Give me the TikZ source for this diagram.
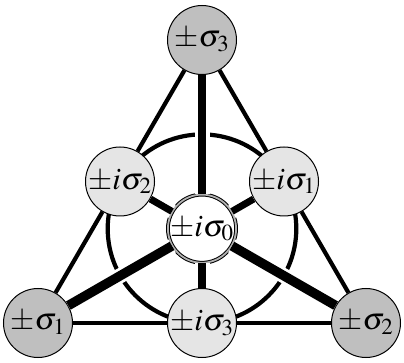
\documentclass[tikz,border=0pt]{standalone}
\usepackage{amsmath}
\usepackage{mathptmx}
\usepackage{tikz}
\usetikzlibrary{backgrounds}

\tikzset{median/.style={preaction={draw=white,line width=15pt},line width=#1}}

\begin{document}
\begin{tikzpicture}[x=1pt,y=-1pt]
	\useasboundingbox (0,0) rectangle (404,363);
	\begin{scope}[every node/.style={circle,draw,line width=1pt,minimum size=69pt,inner sep=0pt,font=\fontsize{31}{34}\selectfont}]
		\node[fill=black!25] (s3) at (202,40) {$\pm\sigma_3$};
		\node[fill=black!25] (s1) at (38,323) {$\pm\sigma_1$};
		\node[fill=black!25] (s2) at (366,323) {$\pm\sigma_2$};
		\node[fill=black!10] (is2) at (120,181.5) {$\pm i\sigma_2$};
		\node[fill=black!10] (is1) at (284,181.5) {$\pm i\sigma_1$};
		\node[fill=black!10] (is3) at (202,323) {$\pm i\sigma_3$};
		\node[fill=white,double=black!30,double distance=1.8pt,minimum size=65pt] (is0) at (202,228.7) {$\pm i\sigma_0$};
	\end{scope}

	% inscribed circle behind everything
	\begin{scope}[on background layer]
		\draw[line width=4.2pt] (is0.center) circle (94.3);
	\end{scope}

	% sides of the triangle
	\begin{scope}[line width=4.2pt]
		\draw (s3) -- (is2);
		\draw (is2) -- (s1);
		\draw (s3) -- (is1);
		\draw (is1) -- (s2);
		\draw (s1) -- (is3);
		\draw (is3) -- (s2);
	\end{scope}

	% medians through the centre
	\draw[median=8.5pt] (s3) -- (is0);
	\draw[median=9.5pt] (s1) -- (is0);
	\draw[median=9.5pt] (s2) -- (is0);
	\draw[median=8pt] (is0) -- (is3);
	\draw[median=7pt] (is0) -- (is1);
	\draw[median=7pt] (is0) -- (is2);
\end{tikzpicture}
\end{document}
